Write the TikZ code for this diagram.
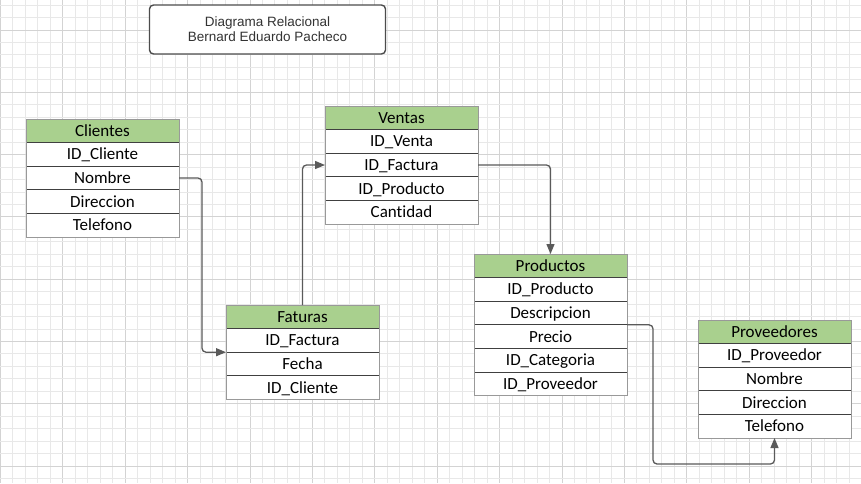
\documentclass[tikz,border=0pt]{standalone}
\usepackage{fontspec}
\setmainfont{Liberation Sans}
\newfontfamily\calib[RawFeature={-liga;-clig;-dlig}]{Carlito}
\usetikzlibrary{arrows.meta,positioning}
\definecolor{gridminor}{HTML}{E8E8E8}
\definecolor{gridmajor}{HTML}{D3D3D3}
\definecolor{hdrgreen}{HTML}{A9D08E}
\definecolor{conncol}{HTML}{5A5A5A}
\definecolor{titlecol}{HTML}{333333}
\tikzset{
  cell/.style={rectangle, minimum width=153pt, minimum height=23.6pt, inner sep=0pt, outer sep=0pt,
    draw=black!75, line width=0.9pt, fill=white, font=\calib\fontsize{17}{19}\selectfont,
    text height=12.4pt, text depth=1.6pt},
  hdr/.style={cell, fill=hdrgreen},
  outerbox/.style={draw=black!40, line width=1pt},
  conn/.style={draw=conncol, line width=1.3pt, rounded corners=4pt,
    -{Triangle[length=10pt,width=8pt]}},
  titlebox/.style={draw=black!70, line width=1.4pt, rounded corners=4pt, minimum width=236pt,
    minimum height=49pt, align=center, text=titlecol, font=\fontsize{13.5}{15}\selectfont}
}
\begin{document}
\begin{tikzpicture}[x=1pt,y=-1pt]
\useasboundingbox (0,0) rectangle (861,483);
\fill[white] (0,0) rectangle (861,483);
% grid
\foreach \k in {0,...,69}{
  \pgfmathsetmacro{\gx}{0.3+12.48*\k}
  \pgfmathtruncatemacro{\m}{mod(\k,5)}
  \ifnum\m=0 \draw[gridmajor,line width=0.8pt] (\gx,0) -- (\gx,483);
  \else \draw[gridminor,line width=0.8pt] (\gx,0) -- (\gx,483); \fi
}
\foreach \k in {0,...,38}{
  \pgfmathsetmacro{\gy}{5+12.46*\k}
  \pgfmathtruncatemacro{\m}{mod(\k+3,5)}
  \ifnum\m=0 \draw[gridmajor,line width=0.8pt] (0,\gy) -- (861,\gy);
  \else \draw[gridminor,line width=0.8pt] (0,\gy) -- (861,\gy); \fi
}
% title
\node[titlebox, fill=white] (title) at (267.5,29.5) {Diagrama Relacional\\Bernard Eduardo Pacheco};
% Clientes
\node[hdr] (cli) at (102.5,130.8) {Clientes};
\node[cell, below=0pt of cli] (cli1) {ID\_Cliente};
\node[cell, below=0pt of cli1] (cli2) {Nombre};
\node[cell, below=0pt of cli2] (cli3) {Direccion};
\node[cell, below=0pt of cli3] (cli4) {Telefono};
\draw[outerbox] (cli.north west) rectangle (cli4.south east);
% Ventas
\node[hdr] (ven) at (401.5,117.8) {Ventas};
\node[cell, below=0pt of ven] (ven1) {ID\_Venta};
\node[cell, below=0pt of ven1] (ven2) {ID\_Factura};
\node[cell, below=0pt of ven2] (ven3) {ID\_Producto};
\node[cell, below=0pt of ven3] (ven4) {Cantidad};
\draw[outerbox] (ven.north west) rectangle (ven4.south east);
% Faturas
\node[hdr] (fat) at (302.5,316.8) {Faturas};
\node[cell, below=0pt of fat] (fat1) {ID\_Factura};
\node[cell, below=0pt of fat1] (fat2) {Fecha};
\node[cell, below=0pt of fat2] (fat3) {ID\_Cliente};
\draw[outerbox] (fat.north west) rectangle (fat3.south east);
% Productos
\node[hdr] (pro) at (550.5,265.8) {Productos};
\node[cell, below=0pt of pro] (pro1) {ID\_Producto};
\node[cell, below=0pt of pro1] (pro2) {Descripcion};
\node[cell, below=0pt of pro2] (pro3) {Precio};
\node[cell, below=0pt of pro3] (pro4) {ID\_Categoria};
\node[cell, below=0pt of pro4] (pro5) {ID\_Proveedor};
\draw[outerbox] (pro.north west) rectangle (pro5.south east);
% Proveedores
\node[hdr] (prv) at (774.5,331.8) {Proveedores};
\node[cell, below=0pt of prv] (prv1) {ID\_Proveedor};
\node[cell, below=0pt of prv1] (prv2) {Nombre};
\node[cell, below=0pt of prv2] (prv3) {Direccion};
\node[cell, below=0pt of prv3] (prv4) {Telefono};
\draw[outerbox] (prv.north west) rectangle (prv4.south east);
% connectors
\coordinate (c1) at (202,178);
\coordinate (c4) at (653,464);
\draw[conn] (cli2.east) -- (c1) |- (fat1.south west);
\draw[conn] (fat.north) |- (ven2.west);
\draw[conn] (ven2.east) -| (pro.north);
\draw[conn] (pro3.north east) -| (c4) -| (prv4.south);
\end{tikzpicture}
\end{document}
